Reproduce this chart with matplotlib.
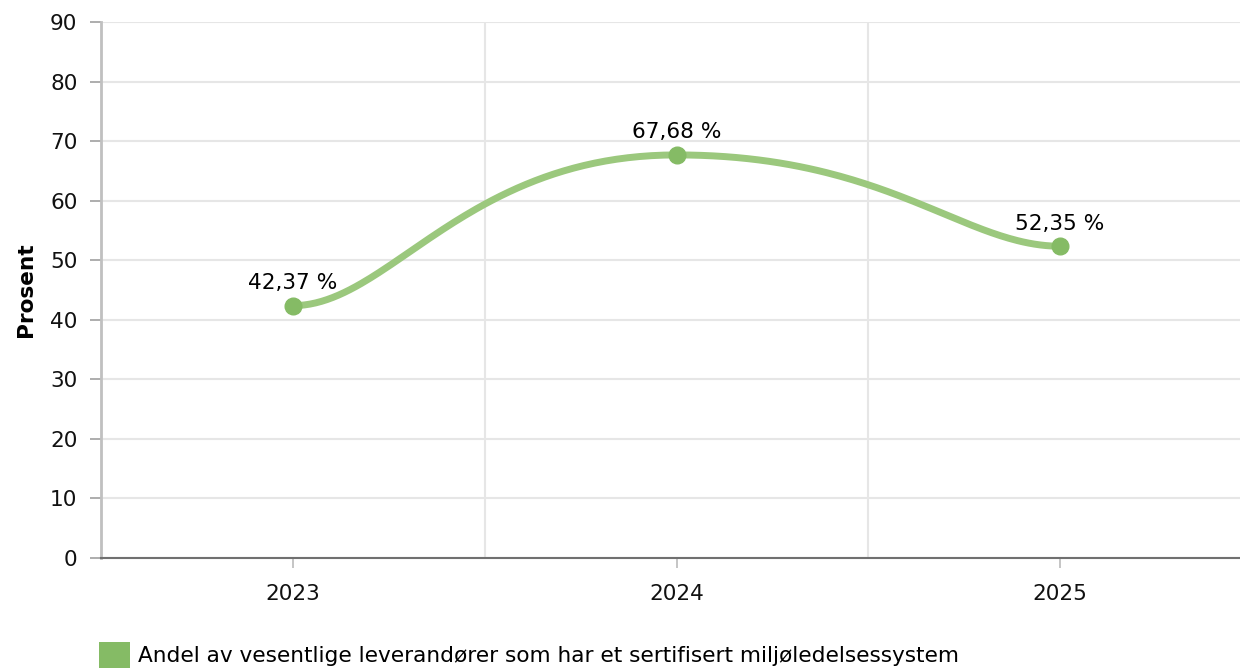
import numpy as np
import matplotlib
matplotlib.use("Agg")
import matplotlib.pyplot as plt
from matplotlib.patches import Patch

# Data
years = ["2023", "2024", "2025"]
values = [42.37, 67.68, 52.35]
labels = ["42,37 %", "67,68 %", "52,35 %"]
series_name = "Andel av vesentlige leverandører som har et sertifisert miljøledelsessystem"

line_color = "#9BC87D"
marker_color = "#85BB65"
grid_color = "#E6E6E6"

plt.rcParams["font.family"] = ["DejaVu Sans"]


def smooth_curve(xs, ys, end_handle=0.25, mid_handle=0.55, n=100):
    # cubic bezier segments with horizontal tangents at every point
    m = len(xs)
    handles = [end_handle if i in (0, m - 1) else mid_handle for i in range(m)]
    t = np.linspace(0, 1, n)
    px, py = [], []
    for i in range(m - 1):
        dx = xs[i + 1] - xs[i]
        p0 = (xs[i], ys[i])
        p1 = (xs[i] + handles[i] * dx, ys[i])
        p2 = (xs[i + 1] - handles[i + 1] * dx, ys[i + 1])
        p3 = (xs[i + 1], ys[i + 1])
        b0 = (1 - t) ** 3
        b1 = 3 * (1 - t) ** 2 * t
        b2 = 3 * (1 - t) * t ** 2
        b3 = t ** 3
        px.extend(b0 * p0[0] + b1 * p1[0] + b2 * p2[0] + b3 * p3[0])
        py.extend(b0 * p0[1] + b1 * p1[1] + b2 * p2[1] + b3 * p3[1])
    return np.array(px), np.array(py)


x = np.arange(len(years))
cx, cy = smooth_curve(list(x.astype(float)), values)

fig = plt.figure(figsize=(12.4, 6.7), dpi=100)
ax = fig.add_axes([101 / 1240, 1 - 558 / 670, 1151 / 1240, 536 / 670])

ax.plot(cx, cy, color=line_color, lw=5, solid_capstyle="round", zorder=3)
ax.plot(x, values, "o", color=marker_color, ms=12, zorder=4)

for xi, v, lab in zip(x, values, labels):
    ax.annotate(lab, (xi, v), xytext=(0, 9), textcoords="offset points",
                ha="center", va="bottom", fontsize=15.6, color="#000000", zorder=5)

ax.set_xlim(-0.5, 2.5)
ax.set_ylim(0, 90)
ax.set_yticks(np.arange(0, 91, 10))
ax.set_xticks(x)
ax.set_xticklabels(years)
ax.set_xticks([0.5, 1.5], minor=True)

ax.grid(axis="y", color=grid_color, lw=1.5, zorder=0)
ax.grid(axis="x", which="minor", color=grid_color, lw=1.5, zorder=0)
ax.grid(axis="x", which="major", visible=False)

for s in ["top", "right"]:
    ax.spines[s].set_visible(False)
ax.spines["left"].set_color("#C0C0C0")
ax.spines["left"].set_linewidth(2)
ax.spines["bottom"].set_color("#707070")
ax.spines["bottom"].set_linewidth(1.5)

ax.tick_params(axis="y", length=8, width=1.2, color="#A0A0A0", pad=9,
               labelsize=15.6, labelcolor="#111111")
ax.tick_params(axis="x", which="major", length=7, width=1.2, color="#BBBBBB",
               pad=12, labelsize=15.6, labelcolor="#111111")
ax.tick_params(axis="x", which="minor", length=0)

ax.set_ylabel("Prosent", fontsize=15.6, fontweight="bold", labelpad=10)

handle = Patch(facecolor=marker_color, edgecolor="none")
ax.legend([handle], [series_name], loc="upper left",
          bbox_to_anchor=(99 / 1240, 1 - 642 / 670), bbox_transform=fig.transFigure,
          frameon=False, fontsize=15.6, handlelength=1.45, handleheight=1.45,
          handletextpad=0.35, borderpad=0, borderaxespad=0)

fig.savefig("out.png", dpi=100)
